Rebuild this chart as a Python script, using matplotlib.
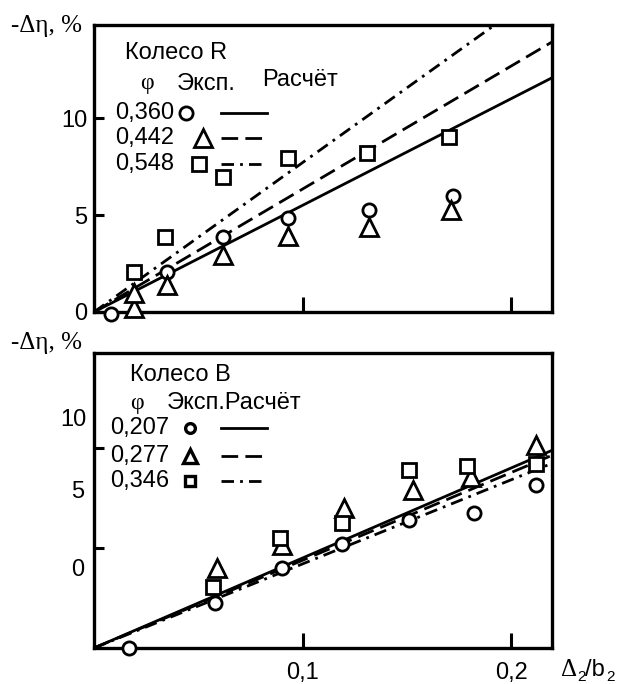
import matplotlib
matplotlib.use("Agg")
import matplotlib.pyplot as plt

plt.rcParams['font.family'] = ['Liberation Sans', 'DejaVu Sans']

# ---------------- data: wheel R (top) ----------------
r_phi = ["0,360", "0,442", "0,548"]
r_circ_x = [0.008, 0.035, 0.062, 0.093, 0.132, 0.172]
r_circ_y = [-0.1, 2.05, 3.85, 4.85, 5.25, 6.0]
r_tri_x = [0.019, 0.019, 0.035, 0.062, 0.093, 0.132, 0.171]
r_tri_y = [0.2, 1.0, 1.4, 2.95, 3.9, 4.4, 5.25]
r_sq_x = [0.019, 0.034, 0.062, 0.093, 0.131, 0.170]
r_sq_y = [2.05, 3.85, 6.95, 7.95, 8.2, 9.05]
calc_x = [0.0, 0.22]
r_calc_1 = [0.0, 12.1]
r_calc_2 = [0.0, 13.95]
r_calc_3 = [0.0, 16.95]

# ---------------- data: wheel B (bottom) ----------------
b_phi = ["0,207", "0,277", "0,346"]
b_circ_x = [0.017, 0.058, 0.090, 0.119, 0.151, 0.182, 0.212]
b_circ_y = [0.0, 2.25, 4.0, 5.2, 6.4, 6.75, 8.15]
b_tri_x = [0.059, 0.090, 0.120, 0.153, 0.181, 0.212]
b_tri_y = [4.0, 5.15, 7.0, 7.9, 8.55, 10.15]
b_sq_x = [0.057, 0.089, 0.119, 0.151, 0.179, 0.212]
b_sq_y = [3.05, 5.5, 6.25, 8.9, 9.1, 9.2]
b_calc_1 = [0.0, 9.9]
b_calc_2 = [0.0, 9.65]
b_calc_3 = [0.0, 9.25]

xticks = [0.1, 0.2]
xticklabels = ["0,1", "0,2"]

W, H = 621, 684
fig = plt.figure(figsize=(W / 100, H / 100), dpi=100)

def frac(x0, y0, x1, y1):
    return [x0 / W, 1 - y1 / H, (x1 - x0) / W, (y1 - y0) / H]

LW = 2.0
STY = {
    'solid': dict(ls='-'),
    'dash': dict(ls=(0, (6, 2.6))),
    'dashdot': dict(ls=(0, (4.5, 2.2, 1, 2.2))),
}
MK = dict(mfc='white', mec='black', mew=2.0, ls='none', clip_on=False, zorder=5)
FS = 17

def style_axes(ax, ytop):
    ax.set_xlim(0, 0.2196)
    ax.set_ylim(0, ytop)
    for s in ax.spines.values():
        s.set_linewidth(2.4)
    ax.tick_params(axis='x', direction='in', length=11, width=2.2, pad=10, labelsize=FS)
    ax.tick_params(axis='y', direction='in', length=7, width=2.2, pad=5, labelsize=FS)
    ax.set_xticks(xticks)

# ---------- top axes ----------
ax1 = fig.add_axes(frac(94, 25, 552, 312))
style_axes(ax1, 14.8)
ax1.set_xticklabels([])
ax1.set_yticks([0, 5, 10])
ax1.set_yticklabels(["0", "5", "10"])
ax1.plot(calc_x, r_calc_1, color='black', lw=LW, **STY['solid'])
ax1.plot(calc_x, r_calc_2, color='black', lw=LW, **STY['dash'])
ax1.plot(calc_x, r_calc_3, color='black', lw=LW, **STY['dashdot'])
ax1.plot(r_circ_x, r_circ_y, marker='o', ms=9.5, **MK)
ax1.plot(r_tri_x, r_tri_y, marker='^', ms=13, **MK)
ax1.plot(r_sq_x, r_sq_y, marker='s', ms=9.5, **MK)

# ---------- bottom axes ----------
ax2 = fig.add_axes(frac(94, 353, 552, 648))
style_axes(ax2, 14.75)
ax2.set_xticklabels(xticklabels)
ax2.set_yticks([5, 10])
ax2.set_yticklabels([])
ax2.plot(calc_x, b_calc_1, color='black', lw=LW, **STY['solid'])
ax2.plot(calc_x, b_calc_2, color='black', lw=LW, **STY['dash'])
ax2.plot(calc_x, b_calc_3, color='black', lw=LW, **STY['dashdot'])
ax2.plot(b_circ_x, b_circ_y, marker='o', ms=9.5, **MK)
ax2.plot(b_tri_x, b_tri_y, marker='^', ms=13, **MK)
ax2.plot(b_sq_x, b_sq_y, marker='s', ms=9.5, **MK)

# ---------- overlay in pixel coordinates for annotations ----------
ov = fig.add_axes([0, 0, 1, 1], zorder=10)
ov.set_xlim(0, W)
ov.set_ylim(H, 0)
ov.axis('off')
ov.patch.set_alpha(0)

def t(x, y, s, ha='left', fs=FS, **kw):
    ov.text(x, y, s, ha=ha, va='center', fontsize=fs, **kw)

SERIF = ['Liberation Serif', 'DejaVu Serif']

# misplaced y labels of the bottom panel (as in the original)
t(86, 420, "10", ha='right')
t(84, 492, "5", ha='right')
t(84, 570, "0", ha='right')

# axis labels
t(11, 26, "-Δη, %", fs=18, family=SERIF)
t(11, 343, "-Δη, %", fs=18, family=SERIF)
t(561, 670, "Δ", fs=18, family=SERIF)
t(577, 677, "2", fs=11)
t(585, 670, "/b", fs=FS)
t(606, 677, "2", fs=11)

# legend: wheel R
t(125, 53, "Колесо R")
t(147, 84, "φ", ha='center', family=SERIF)
t(177, 84, "Эксп.")
t(262, 80, "Расчёт")
rows_r = [113, 138, 164]
marks = ['o', '^', 's']
styles = ['solid', 'dash', 'dashdot']
top_leg_sizes = [9.5, 13, 9.5]
bot_leg_sizes = [7, 10, 7]
mk_x_r = [186, 203, 199]
LMK = dict(MK, mew=2.4)
for i, y in enumerate(rows_r):
    t(115, y, r_phi[i])
    ov.plot([mk_x_r[i]], [y], marker=marks[i], ms=top_leg_sizes[i], **MK)
    ov.plot([221, 267], [y, y], color='black', lw=LW, **STY[styles[i]])

# legend: wheel B
t(130, 375, "Колесо B")
t(137, 403, "φ", ha='center', family=SERIF)
t(167, 403, "Эксп.Расчёт")
rows_b = [428, 456, 481]
for i, y in enumerate(rows_b):
    t(110, y, b_phi[i])
    ov.plot([190], [y], marker=marks[i], ms=bot_leg_sizes[i], **LMK)
    ov.plot([221, 267], [y, y], color='black', lw=LW, **STY[styles[i]])

fig.savefig("out.png", dpi=100, facecolor='white')
